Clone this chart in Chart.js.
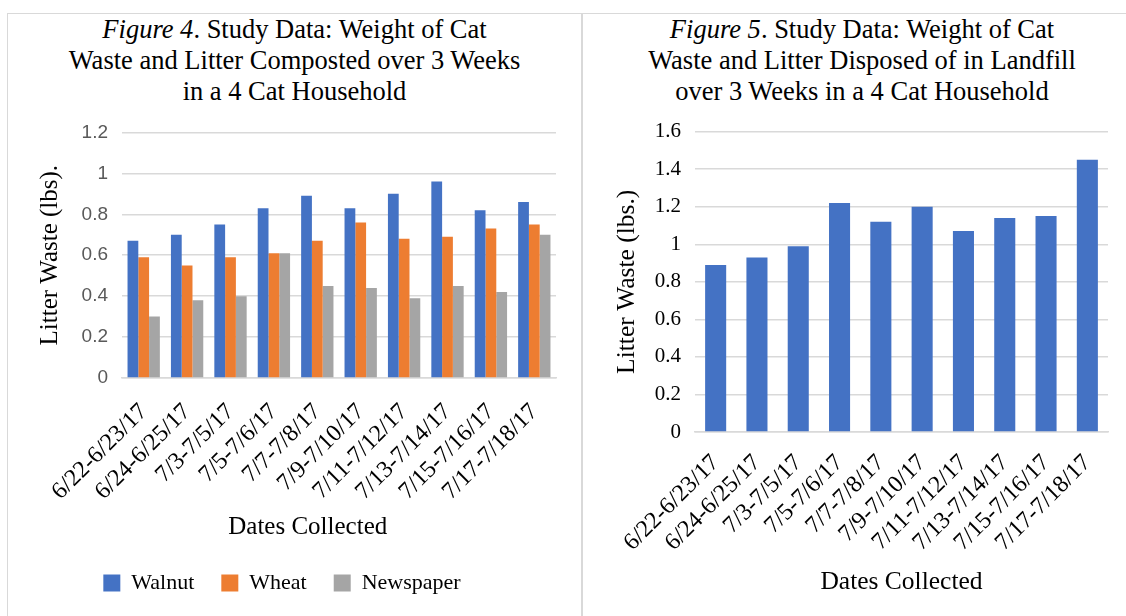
<!DOCTYPE html>
<html>
<head>
<meta charset="utf-8">
<script src="https://cdn.jsdelivr.net/npm/chart.js@4/dist/chart.umd.min.js"></script>
<style>
  body { margin: 0; width: 1126px; height: 616px; overflow: hidden; background: #fff; position: relative; }
  #frame { position: absolute; left: 7px; top: 13px; width: 1130px; height: 610px; border-top: 1px solid #d9d9d9; border-left: 1px solid #d9d9d9; }
  #divider { position: absolute; left: 581px; top: 13px; width: 2px; height: 610px; background: #d9d9d9; }
  .title { position: absolute; top: 14px; font-family: "Liberation Serif", serif; font-size: 26.5px; line-height: 31px; text-align: center; color: #000; white-space: nowrap; }
  canvas { position: absolute; }
</style>
</head>
<body>
<div id="frame"></div>
<div id="divider"></div>
<div class="title" style="left:8px;width:573px"><i>Figure 4</i>. Study Data: Weight of Cat<br>Waste and Litter Composted over 3 Weeks<br>in a 4 Cat Household</div>
<div class="title" style="left:583px;width:558px"><i>Figure 5</i>. Study Data: Weight of Cat<br>Waste and Litter Disposed of in Landfill<br>over 3 Weeks in a 4 Cat Household</div>
<canvas id="composted" width="573" height="509" style="left:8px;top:107px"></canvas>
<canvas id="landfill" width="543" height="511" style="left:583px;top:105px"></canvas>
<script>
const dates = ['6/22-6/23/17', '6/24-6/25/17', '7/3-7/5/17', '7/5-7/6/17', '7/7-7/8/17',
  '7/9-7/10/17', '7/11-7/12/17', '7/13-7/14/17', '7/15-7/16/17', '7/17-7/18/17']

// figure 4 - composted
const walnut = [0.67, 0.70, 0.75, 0.83, 0.89, 0.83, 0.90, 0.96, 0.82, 0.86]
const wheat = [0.59, 0.55, 0.59, 0.61, 0.67, 0.76, 0.68, 0.69, 0.73, 0.75]
const newspaper = [0.30, 0.38, 0.40, 0.61, 0.45, 0.44, 0.39, 0.45, 0.42, 0.70]

// figure 5 - landfill
const landfill = [0.89, 0.93, 0.99, 1.22, 1.12, 1.20, 1.07, 1.14, 1.15, 1.45]

const SERIF = 'Liberation Serif'
const GRID = '#d9d9d9'
const fmt = v => String(+Number(v).toFixed(1))
// trailing nbsp pulls the centred axis title a bit left, like the original
const NBSP = '\u00a0'.repeat(10)

Chart.defaults.font.family = SERIF

new Chart(document.getElementById('composted'), {
  type: 'bar',
  data: {
    labels: dates,
    datasets: [
      { label: 'Walnut', data: walnut, backgroundColor: '#4472C4' },
      { label: 'Wheat', data: wheat, backgroundColor: '#ED7D31' },
      { label: 'Newspaper', data: newspaper, backgroundColor: '#A5A5A5' }
    ]
  },
  options: {
    responsive: false,
    animation: false,
    layout: { padding: { top: 19, right: 25, bottom: 12, left: 0 } },
    datasets: { bar: { categoryPercentage: 0.745, barPercentage: 1 } },
    plugins: {
      tooltip: { enabled: false },
      legend: {
        position: 'bottom',
        labels: { boxWidth: 17, boxHeight: 17, padding: 27, color: '#000', font: { family: SERIF, size: 22 } }
      }
    },
    scales: {
      x: {
        grid: { display: false },
        border: { color: GRID, width: 1.5 },
        ticks: { autoSkip: false, minRotation: 45, maxRotation: 45, padding: 12, color: '#000', font: { family: SERIF, size: 24 } },
        title: { display: true, text: 'Dates Collected' + NBSP, color: '#000', font: { family: SERIF, size: 25 }, padding: { top: 0, bottom: 3 } },
        afterFit: s => { s.height = 167 }
      },
      y: {
        min: 0, max: 1.2,
        grid: { color: GRID, lineWidth: 1.5, drawTicks: false },
        border: { display: false },
        ticks: { stepSize: 0.2, padding: 14, color: '#595959', font: { family: 'Liberation Sans', size: 19 }, callback: fmt },
        title: { display: true, text: 'Litter Waste (lbs).', color: '#000', font: { family: SERIF, size: 25 }, padding: { top: 27, bottom: 0 } },
        afterFit: s => { s.width = 114 }
      }
    }
  }
})

new Chart(document.getElementById('landfill'), {
  type: 'bar',
  data: {
    labels: dates,
    datasets: [
      { label: 'Litter Waste', data: landfill, backgroundColor: '#4472C4' }
    ]
  },
  options: {
    responsive: false,
    animation: false,
    layout: { padding: { top: 19, right: 18, bottom: 0, left: 0 } },
    datasets: { bar: { categoryPercentage: 1, barPercentage: 0.51 } },
    plugins: {
      tooltip: { enabled: false },
      legend: { display: false }
    },
    scales: {
      x: {
        grid: { display: false },
        border: { color: GRID, width: 1.5 },
        ticks: { autoSkip: false, minRotation: 45, maxRotation: 45, padding: 9, color: '#000', font: { family: SERIF, size: 24 } },
        title: { display: true, text: 'Dates Collected', color: '#000', font: { family: SERIF, size: 25.5 }, padding: { top: 0, bottom: 18 } },
        afterFit: s => { s.height = 184 }
      },
      y: {
        min: 0, max: 1.6,
        grid: { color: GRID, lineWidth: 1.5, drawTicks: false },
        border: { display: false },
        ticks: { stepSize: 0.2, padding: 14, color: '#000', font: { family: SERIF, size: 21 }, callback: fmt },
        title: { display: true, text: 'Litter Waste (lbs.)', color: '#000', font: { family: SERIF, size: 25.5 }, padding: { top: 29, bottom: 0 } },
        afterFit: s => { s.width = 112 }
      }
    }
  }
})
</script>
</body>
</html>
